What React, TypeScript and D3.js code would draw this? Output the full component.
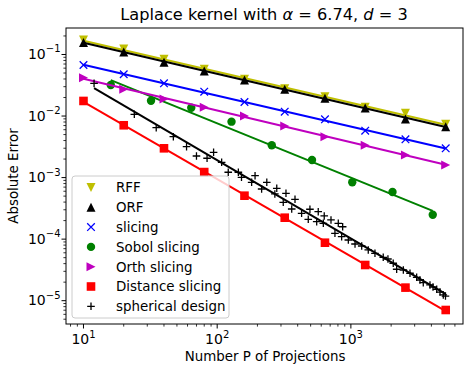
import * as d3 from "d3";

// projections used by most methods
const projections = [10, 20, 40, 80, 160, 320, 640, 1280, 2560, 5120];
const rffErr = [0.172, 0.123, 0.0836, 0.0575, 0.0396, 0.0278, 0.0206, 0.01386, 0.0111, 0.00735];
const orfErr = [0.156, 0.11, 0.0747, 0.054, 0.0385, 0.0272, 0.0194, 0.0135, 0.00896, 0.00671];
const slicingErr = [0.0675, 0.0477, 0.034, 0.0249, 0.0169, 0.01177, 0.00885, 0.00578, 0.00419, 0.00299];
const orthErr = [0.042, 0.0272, 0.0189, 0.01387, 0.01002, 0.00689, 0.00462, 0.00335, 0.00233, 0.0016];
const distanceErr = [0.01758, 0.00708, 0.00299, 0.00123, 5.08e-4, 2.23e-4, 8.75e-5, 3.8e-5, 1.63e-5, 7.06e-6];

const sobolP = [16, 32, 64, 128, 256, 512, 1024, 2048, 4096];
const sobolErr = [0.0319, 0.0177, 0.01367, 0.0081, 0.00335, 0.00193, 8.39e-4, 5.84e-4, 2.49e-4];

const sphereP = [
  12, 24, 35, 47, 59, 70, 84, 94, 108, 121, 144, 152, 181, 192, 215, 235, 270, 279, 312, 327,
  361, 382, 428, 480, 494, 555, 570, 622, 632, 710, 760, 805, 853, 868, 957, 1074, 1205, 1349,
  1514, 1746, 1893, 2074, 2200, 2468, 2768, 3105, 3286, 3479, 3905, 4114, 4385, 4640, 4911, 5100,
];
const sphereErr = [
  0.034, 0.01067, 0.00647, 0.00462, 0.00318, 0.002244, 0.00206, 0.002576, 0.001773, 0.00122,
  0.00122, 0.001011, 8.39e-4, 0.001074, 6.53e-4, 8.39e-4, 5.42e-4, 6.7e-4, 3.97e-4, 5.56e-4,
  3.09e-4, 4.44e-4, 2.63e-4, 2.1e-4, 3.06e-4, 1.92e-4, 2.79e-4, 1.81e-4, 2.38e-4, 2.05e-4,
  1.245e-4, 1.81e-4, 1.096e-4, 1.59e-4, 9.69e-5, 8.34e-5, 7.74e-5, 6.67e-5, 5.89e-5, 5.07e-5,
  4.76e-5, 4.06e-5, 3.24e-5, 3.15e-5, 2.79e-5, 2.4e-5, 2.17e-5, 1.96e-5, 1.8e-5, 1.67e-5,
  1.53e-5, 1.38e-5, 1.24e-5, 1.19e-5,
];

const xTicks = [10, 100, 1000];
const yTicks = [1e-1, 1e-2, 1e-3, 1e-4, 1e-5];

const series = [
  { name: "RFF", color: "#bfbf00", marker: "v", xs: projections, ys: rffErr },
  { name: "ORF", color: "#000000", marker: "^", xs: projections, ys: orfErr },
  { name: "slicing", color: "#0000ff", marker: "x", xs: projections, ys: slicingErr },
  { name: "Sobol slicing", color: "#008000", marker: "o", xs: sobolP, ys: sobolErr },
  { name: "Orth slicing", color: "#bf00bf", marker: ">", xs: projections, ys: orthErr },
  { name: "Distance slicing", color: "#ff0000", marker: "s", xs: projections, ys: distanceErr },
  { name: "spherical design", color: "#000000", marker: "+", xs: sphereP, ys: sphereErr },
];

const FONT = "DejaVu Sans, sans-serif";
const W = 472;
const H = 372;
const left = 66;
const right = 463;
const top = 28;
const bottom = 324;

// least squares line in log-log space
const fitLine = (xs: number[], ys: number[]) => {
  const lx = xs.map(Math.log10);
  const ly = ys.map(Math.log10);
  const mx = d3.mean(lx)!;
  const my = d3.mean(ly)!;
  let num = 0;
  let den = 0;
  lx.forEach((v, i) => {
    num += (v - mx) * (ly[i] - my);
    den += (v - mx) * (v - mx);
  });
  const b = num / den;
  const a = my - b * mx;
  const x0 = d3.min(xs)!;
  const x1 = d3.max(xs)!;
  return [
    [x0, Math.pow(10, a + b * Math.log10(x0))],
    [x1, Math.pow(10, a + b * Math.log10(x1))],
  ];
};

const Marker = ({ type, color, x, y }: { type: string; color: string; x: number; y: number }) => {
  const r = 4.5;
  if (type === "o") return <circle cx={x} cy={y} r={4.2} fill={color} />;
  if (type === "s") return <rect x={x - 4.3} y={y - 4.3} width={8.6} height={8.6} fill={color} />;
  if (type === "^")
    return <path d={`M${x},${y - r}L${x - r},${y + r}L${x + r},${y + r}Z`} fill={color} />;
  if (type === "v")
    return <path d={`M${x},${y + r}L${x - r},${y - r}L${x + r},${y - r}Z`} fill={color} />;
  if (type === ">")
    return <path d={`M${x + r},${y}L${x - r},${y - r}L${x - r},${y + r}Z`} fill={color} />;
  const s = 3.8;
  if (type === "x")
    return (
      <path
        d={`M${x - s},${y - s}L${x + s},${y + s}M${x - s},${y + s}L${x + s},${y - s}`}
        stroke={color}
        strokeWidth={1.3}
      />
    );
  return (
    <path d={`M${x - s},${y}L${x + s},${y}M${x},${y - s}L${x},${y + s}`} stroke={color} strokeWidth={1.3} />
  );
};

const expLabel = (v: number) => {
  const e = Math.round(Math.log10(v));
  return e < 0 ? "\u2212" + Math.abs(e) : String(e);
};

export default function App() {
  const x = d3.scaleLog().domain([7.4, 6896]).range([left, right]);
  const y = d3.scaleLog().domain([4.18e-6, 0.2694]).range([bottom, top]);
  const line = d3
    .line<number[]>()
    .x((d) => x(d[0]))
    .y((d) => y(d[1]));

  const xMinor: number[] = [];
  for (let k = 0; k <= 3; k++)
    for (let m = 2; m <= 9; m++) {
      const v = m * Math.pow(10, k);
      if (v >= 7.4 && v <= 6896) xMinor.push(v);
    }
  const yMinor: number[] = [];
  for (let k = -6; k <= -1; k++)
    for (let m = 2; m <= 9; m++) {
      const v = m * Math.pow(10, k);
      if (v >= 4.18e-6 && v <= 0.2694) yMinor.push(v);
    }

  const legX = 72;
  const legY = 176;
  const rowH = 19.8;

  return (
    <svg
      width={W}
      height={H}
      style={{ position: "absolute", left: 0, top: 0, background: "#fff" }}
      fontFamily={FONT}
    >
      <rect width={W} height={H} fill="#fff" />
      <text x={264} y={19.5} textAnchor="middle" fontSize={16.2}>
        Laplace kernel with <tspan fontStyle="italic">α</tspan> = 6.74, <tspan fontStyle="italic">d</tspan> = 3
      </text>

      {series.map((s) => (
        <g key={s.name}>
          <path d={line(fitLine(s.xs, s.ys))!} stroke={s.color} strokeWidth={2} fill="none" />
          {s.xs.map((p, i) => (
            <Marker key={i} type={s.marker} color={s.color} x={x(p)} y={y(s.ys[i])} />
          ))}
        </g>
      ))}

      {/* ticks */}
      {xMinor.map((v) => (
        <line key={"xm" + v} x1={x(v)} x2={x(v)} y1={bottom} y2={bottom + 2.6} stroke="#000" strokeWidth={0.8} />
      ))}
      {xTicks.map((v) => (
        <g key={"x" + v}>
          <line x1={x(v)} x2={x(v)} y1={bottom} y2={bottom + 4.5} stroke="#000" strokeWidth={1} />
          <text x={x(v)} y={344} textAnchor="middle" fontSize={14}>
            10<tspan dy={-6.5} fontSize={10}>{expLabel(v)}</tspan>
          </text>
        </g>
      ))}
      {yMinor.map((v) => (
        <line key={"ym" + v} x1={left - 2.6} x2={left} y1={y(v)} y2={y(v)} stroke="#000" strokeWidth={0.8} />
      ))}
      {yTicks.map((v) => (
        <g key={"y" + v}>
          <line x1={left - 4.5} x2={left} y1={y(v)} y2={y(v)} stroke="#000" strokeWidth={1} />
          <text x={60.5} y={y(v) + 4.5} textAnchor="end" fontSize={14}>
            10<tspan dy={-6.5} fontSize={10}>{expLabel(v)}</tspan>
          </text>
        </g>
      ))}

      <rect
        x={left}
        y={top}
        width={right - left}
        height={bottom - top}
        fill="none"
        stroke="#000"
        strokeWidth={1}
      />

      {/* legend */}
      <rect
        x={legX}
        y={legY}
        width={157}
        height={142}
        rx={3}
        fill="#fff"
        fillOpacity={0.8}
        stroke="#cccccc"
        strokeWidth={1}
      />
      {series.map((s, i) => (
        <g key={"leg" + s.name}>
          <Marker type={s.marker} color={s.color} x={91} y={legY + 11.5 + i * rowH} />
          <text x={116} y={legY + 11.5 + i * rowH + 4.8} fontSize={13.4}>
            {s.name}
          </text>
        </g>
      ))}

      <text x={265} y={360.5} textAnchor="middle" fontSize={13.4}>
        Number P of Projections
      </text>
      <text
        x={18.3}
        y={(top + bottom) / 2}
        textAnchor="middle"
        fontSize={13.4}
        transform={`rotate(-90, 18.3, ${(top + bottom) / 2})`}
      >
        Absolute Error
      </text>
    </svg>
  );
}
